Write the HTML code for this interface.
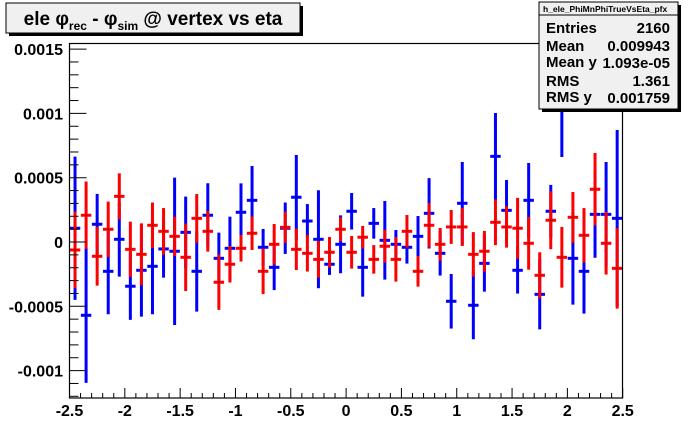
<!DOCTYPE html>
<html><head><meta charset="utf-8"><style>
body{margin:0;background:#fff;}
svg{display:block;font-family:"Liberation Sans",Arial,sans-serif;}
</style></head><body>
<svg id="c" width="692" height="444" viewBox="0 0 692 444">
<rect x="0" y="0" width="692" height="444" fill="#fff"/>
<g id="marks"></g>
<rect x="69.5" y="43.5" width="553" height="354.5" fill="none" stroke="#000" stroke-width="1.2"/>
<g id="axes"></g>
<g>
<rect x="9" y="6" width="294" height="30" fill="#000"/>
<rect x="6" y="3" width="294" height="30" fill="#f0f0f0" stroke="#000" stroke-width="1"/>
<text x="153" y="25" text-anchor="middle" font-size="19" font-weight="bold">ele φ<tspan font-size="12" dy="5">rec</tspan><tspan dy="-5"> - φ</tspan><tspan font-size="12" dy="5">sim</tspan><tspan dy="-5"> @ vertex vs eta</tspan></text>
</g>
<g>
<rect x="542" y="5" width="139" height="107" fill="#000"/>
<rect x="539" y="2" width="139" height="107" fill="#f0f0f0" stroke="#000" stroke-width="1"/>
<line x1="539" y1="15" x2="678" y2="15" stroke="#000" stroke-width="1"/>
<text x="543" y="12" font-size="8.5" font-weight="bold">h_ele_PhiMnPhiTrueVsEta_pfx</text>
<g font-size="15" font-weight="bold">
<text x="546" y="33">Entries</text><text x="670" y="33" text-anchor="end">2160</text>
<text x="546" y="51">Mean</text><text x="670" y="51" text-anchor="end">0.009943</text>
<text x="546" y="67">Mean y</text><text x="670" y="68" text-anchor="end">1.093e-05</text>
<text x="546" y="86">RMS</text><text x="670" y="86" text-anchor="end">1.361</text>
<text x="546" y="102">RMS y</text><text x="670" y="103" text-anchor="end">0.001759</text>
</g></g>
</svg>
<script>
// values in units of 1e-5
const blueMean=[10.7,-57.0,13.8,-22.8,2.1,-34.4,-22.0,-18.9,-5.4,-7.2,7.5,-22.8,20.8,-12.7,-4.9,23.1,32.4,-4.1,-19.7,10.7,34.8,16.3,2.1,-17.3,-1.8,23.9,-19.7,14.5,1.3,-1.8,-4.1,4.4,22.3,-8.8,-46.1,30.1,-49.2,-16.6,66.6,24.6,-22.0,32.4,-40.7,23.9,102.6,-12.7,-22.8,21.5,21.5,18.4];
const blueErr=[55.7,52.5,23.6,33.4,29.0,26.2,36.0,37.3,22.3,57.3,27.8,31.3,24.9,20.0,24.6,22.5,26.7,14.2,17.7,20.0,32.9,13.2,38.1,8.3,22.5,14.2,22.8,11.9,30.6,11.1,12.7,15.8,27.4,17.3,21.2,32.1,26.4,22.0,33.7,23.6,18.1,29.0,27.2,20.5,36.5,36.0,32.9,33.7,40.7,68.7];
const redMean=[-6.2,20.8,-11.1,9.9,35.5,-5.7,-9.6,13.0,8.3,4.4,-11.9,18.4,8.3,-31.3,-17.3,-4.9,6.8,-22.8,-1.8,11.4,-5.7,-8.8,-13.5,-8.0,9.9,-8.0,3.7,-13.5,-3.3,-13.5,8.3,-22.8,13.0,-1.8,11.7,11.7,-9.6,-7.2,15.3,11.7,10.7,-1.0,-25.9,16.9,-11.9,19.2,5.2,41.0,-1.0,-20.5];
const redErr=[29.8,26.2,22.8,21.5,17.9,21.5,24.1,17.7,18.1,15.3,26.2,18.9,15.8,21.5,14.2,10.3,13.0,17.7,15.8,12.2,16.1,14.2,14.2,11.9,9.3,12.7,8.8,11.1,12.7,17.3,12.7,11.9,17.3,12.7,13.2,14.8,17.3,15.8,17.7,16.1,23.6,20.5,17.9,22.5,23.6,19.7,21.2,28.2,24.3,31.3];
const yTicks=[0.0015,0.001,0.0005,0,-0.0005,-0.001];
const yTickLabels=["0.0015","0.001","0.0005","0","-0.0005","-0.001"];
const xTicks=[-2.5,-2,-1.5,-1,-0.5,0,0.5,1,1.5,2,2.5];
const xTickLabels=["-2.5","-2","-1.5","-1","-0.5","0","0.5","1","1.5","2","2.5"];
const X0=69.5,X1=622.7,Y0=242,YS=64.3/0.0005;
const xmin=-2.5,xmax=2.5,nb=50;
function sx(v){return X0+(v-xmin)/(xmax-xmin)*(X1-X0);}
function sy(v){return Y0-v*YS;}
const NS="http://www.w3.org/2000/svg";
function mk(t,a,p){const e=document.createElementNS(NS,t);for(const k in a)e.setAttribute(k,a[k]);p.appendChild(e);return e;}
const svg=document.getElementById('c');
const defs=mk('defs',{},svg);
const cp=mk('clipPath',{id:'clip'},defs);
mk('rect',{x:69.5,y:43.5,width:553,height:354.5},cp);
const marks=document.getElementById('marks');
marks.setAttribute('clip-path','url(#clip)');
const bw=(xmax-xmin)/nb;
function series(mean,err,color,name){
  const g=mk('g',{},marks);
  
  
  for(let i=0;i<mean.length;i++){
    const xc=xmin+bw*(i+0.5);
    const m=mean[i]*1e-5,e=err[i]*1e-5;
    const pg=mk('g',{},g);
    
    
    mk('line',{x1:sx(xc),x2:sx(xc),y1:sy(m+e),y2:sy(m-e),stroke:color,'stroke-width':3},pg);
    mk('line',{x1:sx(xc-bw/2)+0.3,x2:sx(xc+bw/2)-0.3,y1:sy(m),y2:sy(m),stroke:color,'stroke-width':3},pg);
    mk('rect',{x:sx(xc)-0.5,y:sy(m)-0.5,width:1,height:1,fill:'#000'},pg);
  }
}
series(blueMean,blueErr,'#0000ff','blue-series');
series(redMean,redErr,'#ff0000','red-series');
const ax=document.getElementById('axes');
// y ticks
for(let v=-0.0012;v<=0.00155;v+=0.0001){
  const vv=Math.round(v*1e4)/1e4;
  const major=Math.abs(Math.round(vv/0.0005)*0.0005-vv)<1e-9;
  const t=mk('line',{x1:X0,x2:X0+(major?17:9),y1:sy(vv),y2:sy(vv),stroke:'#000','stroke-width':1},ax);
  
  
}
yTicks.forEach((v,i)=>{
  const t=mk('text',{x:63,y:sy(v)+6,'text-anchor':'end','font-size':16,'font-weight':'bold'},ax);
  t.textContent=yTickLabels[i];
  
  
});
for(let k=0;k<=50;k++){
  const v=xmin+k*0.1;
  const major=k%5===0;
  const t=mk('line',{x1:sx(v),x2:sx(v),y1:398,y2:398-(major?10:5),stroke:'#000','stroke-width':1},ax);
  
  
}
xTicks.forEach((v,i)=>{
  const t=mk('text',{x:sx(v),y:416,'text-anchor':'middle','font-size':16,'font-weight':'bold'},ax);
  t.textContent=xTickLabels[i];
  
  
});
</script>
</body></html>
